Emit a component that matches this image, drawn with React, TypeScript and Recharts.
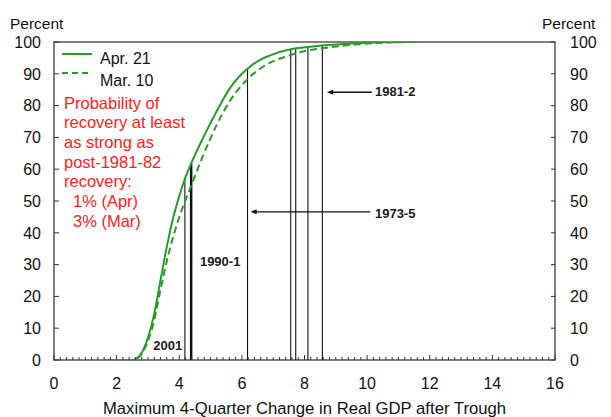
import React from 'react'
import { ComposedChart, Line, XAxis, YAxis, ReferenceLine, ReferenceArea, ReferenceDot } from 'recharts'

// cumulative probability curves (x = max 4-qtr GDP change, y = percent)
const aprX = [1.6, 2.5, 2.75, 3.0, 3.2, 3.4, 3.6, 3.8, 4.0, 4.18, 4.38, 4.77, 5.2, 5.62, 5.9, 6.18, 6.58, 6.9, 7.56, 8.11, 8.57, 9.5, 10.5, 11.6]
const aprY = [0, 0, 1.5, 7, 14.5, 25, 35.5, 44.5, 51.5, 57, 61.8, 70, 78.3, 85.5, 89, 91.6, 94.4, 95.8, 97.7, 98.4, 98.9, 99.5, 99.9, 100]
const marX = [1.6, 2.5, 2.75, 3.0, 3.2, 3.4, 3.6, 3.8, 4.02, 4.37, 4.77, 5.2, 5.62, 6.17, 6.58, 6.9, 7.22, 7.86, 8.71, 9.77, 10.84, 11.6]
const marY = [0, 0, 1.3, 6, 12.5, 22, 31, 38.5, 45.5, 54.5, 64.5, 74, 81.5, 88.2, 91.6, 93.5, 94.8, 96.8, 98.2, 99.3, 99.9, 100]

// past recoveries (vertical markers)
const recX = [4.18, 4.38, 6.18, 7.56, 7.72, 8.11, 8.57]
const recTop = [57, 61.8, 91.6, 97.7, 97.9, 98.4, 98.9]

// annotations
const noteText = ['1981-2', '1973-5', '1990-1', '2001']
const noteX = [10.25, 10.25, 4.66, 3.17]
const noteY = [84.6, 46.2, 31.1, 4.7]
const arrowFromX = [10.15, 10.1]
const arrowToX = [8.72, 6.28]
const arrowY = [84.2, 46.6]

const xLabels = [0, 2, 4, 6, 8, 10, 12, 14, 16]
const xMinor = Array.from({ length: 81 }, (_, i) => Math.round(i * 2) / 10)
const yTicks = [0, 10, 20, 30, 40, 50, 60, 70, 80, 90, 100]

const seriesNames = ['Apr. 21', 'Mar. 10']
const noteLines = ['Probability of', 'recovery at least', 'as strong as', 'post-1981-82', 'recovery:', '1% (Apr)', '3% (Mar)']

const aprData = aprX.map((x, i) => ({ x, y: aprY[i] }))
const marData = marX.map((x, i) => ({ x, y: marY[i] }))

const W = 611
const H = 417
const font = '"Liberation Sans", Arial, Helvetica, sans-serif'
const green = '#2b9a2b'
const ink = '#111'
const tickFont = 16

function XTick(p: any) {
  const v = p.payload.value
  const major = xLabels.includes(v)
  return (
    <g>
      <line x1={p.x} x2={p.x} y1={p.y} y2={p.y - (major ? 5 : 3)} stroke="#333" />
      {major && (
        <text x={p.x} y={p.y + 28.5} textAnchor="middle" fontSize={tickFont} fill={ink} fontFamily={font}>
          {v}
        </text>
      )}
    </g>
  )
}

function LeftTick(p: any) {
  return (
    <g>
      <line x1={p.x} x2={p.x + 5} y1={p.y} y2={p.y} stroke="#333" />
      <text x={p.x - 13} y={p.y + 5.7} textAnchor="end" fontSize={tickFont} fill={ink} fontFamily={font}>
        {p.payload.value}
      </text>
    </g>
  )
}

function RightTick(p: any) {
  return (
    <g>
      <line x1={p.x} x2={p.x - 4} y1={p.y} y2={p.y} stroke="#333" />
      <text x={p.x + 15} y={p.y + 5.7} textAnchor="start" fontSize={tickFont} fill={ink} fontFamily={font}>
        {p.payload.value}
      </text>
    </g>
  )
}

function Arrow(p: any) {
  const tip = Math.min(p.x1, p.x2)
  const tail = Math.max(p.x1, p.x2)
  const y = p.y1
  return (
    <g>
      <line x1={tail} x2={tip + 4} y1={y} y2={y} stroke={ink} strokeWidth={1.3} />
      <polygon points={`${tip},${y} ${tip + 6},${y - 2.5} ${tip + 6},${y + 2.5}`} fill={ink} />
    </g>
  )
}

const noteShape = (text: string) => (p: any) => (
  <text x={p.cx} y={p.cy} dy="0.36em" fontSize={13} fontWeight="bold" fill="#1a1a1a" fontFamily={font}>
    {text}
  </text>
)

export default function App() {
  return (
    <div style={{ position: 'absolute', left: 0, top: 0, width: W, height: H, background: '#fff', fontFamily: font }}>
      <ComposedChart width={W} height={H} margin={{ top: 42, right: 0, bottom: 0, left: 0 }}>
        <XAxis
          type="number"
          dataKey="x"
          domain={[0, 16]}
          ticks={xMinor}
          interval={0}
          tick={XTick}
          tickLine={false}
          axisLine={false}
          tickSize={0}
          tickMargin={0}
          height={57}
          allowDataOverflow
          label={{
            value: 'Maximum 4-Quarter Change in Real GDP after Trough',
            position: 'insideBottom',
            offset: 3,
            style: { fontSize: 16.7, fill: ink, fontFamily: font },
          }}
        />
        <YAxis
          yAxisId="left"
          type="number"
          domain={[0, 100]}
          ticks={yTicks}
          interval={0}
          width={54}
          tick={LeftTick}
          tickLine={false}
          axisLine={false}
          tickSize={0}
          tickMargin={0}
          allowDataOverflow
          label={{
            position: 'top',
            content: (lp: any) => (
              <text x={lp.viewBox.x + 10} y={lp.viewBox.y - 19} dy="0.36em" fontSize={15.5} fill={ink} fontFamily={font}>
                Percent
              </text>
            ),
          }}
        />
        <YAxis
          yAxisId="right"
          orientation="right"
          type="number"
          domain={[0, 100]}
          ticks={yTicks}
          interval={0}
          width={56}
          tick={RightTick}
          tickLine={false}
          axisLine={false}
          tickSize={0}
          tickMargin={0}
          allowDataOverflow
          label={{
            position: 'top',
            content: (lp: any) => (
              <text x={lp.viewBox.x - 13} y={lp.viewBox.y - 19} dy="0.36em" fontSize={15.5} fill={ink} fontFamily={font}>
                Percent
              </text>
            ),
          }}
        />
        <ReferenceArea yAxisId="right" x1={0} x2={16} y1={0} y2={100} fill="none" fillOpacity={0} stroke="none" />
        <ReferenceArea yAxisId="left" x1={0} x2={16} y1={0} y2={100} fill="none" fillOpacity={0} stroke="#555" strokeWidth={1.5} />
        {recX.map((rx, i) => (
          <ReferenceLine
            key={'rec' + i}
            yAxisId="left"
            segment={[{ x: rx, y: 0 }, { x: rx, y: recTop[i] }]}
            stroke={ink}
            strokeWidth={i === 1 ? 2.5 : 1.1}
          />
        ))}
        <Line yAxisId="left" data={aprData} dataKey="y" type="monotone" stroke={green} strokeWidth={2} dot={false} isAnimationActive={false} />
        <Line yAxisId="left" data={marData} dataKey="y" type="monotone" stroke={green} strokeWidth={2} strokeDasharray="7 4" dot={false} isAnimationActive={false} />
        {arrowY.map((ay, i) => (
          <ReferenceLine
            key={'arr' + i}
            yAxisId="left"
            segment={[{ x: arrowFromX[i], y: ay }, { x: arrowToX[i], y: ay }]}
            shape={Arrow}
          />
        ))}
        {noteText.map((t, i) => (
          <ReferenceDot key={'note' + i} yAxisId="left" x={noteX[i]} y={noteY[i]} r={0} shape={noteShape(t)} />
        ))}
      </ComposedChart>

      {/* legend + probability note */}
      <div style={{ position: 'absolute', left: 61, top: 44, width: 180, pointerEvents: 'none' }}>
        {seriesNames.map((n, i) => (
          <div key={n} style={{ position: 'absolute', left: 0, top: i * 19, height: 20, width: 150 }}>
            <svg width={32} height={22} style={{ position: 'absolute', left: 0, top: 0 }}>
              <line x1={1} x2={31} y1={10} y2={10} stroke={green} strokeWidth={2} strokeDasharray={i === 1 ? '6 4' : undefined} />
            </svg>
            <span style={{ position: 'absolute', left: 39, top: 5 + i * 3, fontSize: 16, lineHeight: '20px', color: ink, whiteSpace: 'nowrap' }}>{n}</span>
          </div>
        ))}
        <div style={{ position: 'absolute', left: 3, top: 49.5, color: '#ff2020', fontSize: 16.5, lineHeight: '19.7px', whiteSpace: 'nowrap' }}>
          {noteLines.map((l, i) => (
            <div key={l} style={{ paddingLeft: i >= 5 ? 9 : 0 }}>{l}</div>
          ))}
        </div>
      </div>
    </div>
  )
}
